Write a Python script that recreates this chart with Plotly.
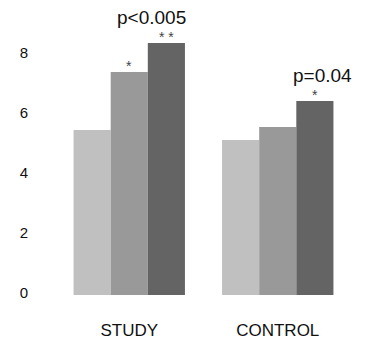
import plotly.graph_objects as go

categories = ["STUDY", "CONTROL"]
series_names = ["A", "B", "C"]
values_a = [5.5, 5.17]
values_b = [7.43, 5.6]
values_c = [8.4, 6.47]
colors = ["#bfc0bf", "#999999", "#646464"]
tick_vals = [0, 2, 4, 6, 8]

fig = go.Figure()
for name, vals, col in zip(series_names, [values_a, values_b, values_c], colors):
    fig.add_trace(go.Bar(x=categories, y=vals, name=name, marker=dict(color=col, line=dict(width=0))))

star_font = dict(family="Liberation Sans, Arial", size=14, color="#444444")
p_font = dict(family="Liberation Sans, Arial", size=19, color="#111111")

# stars above bars
fig.add_annotation(x=0, y=values_b[0], xref="x", yref="y", text="*", showarrow=False,
                   font=star_font, yanchor="bottom", yshift=-4)
fig.add_annotation(x=0.25, y=values_c[0], xref="x", yref="y", text="* *", showarrow=False,
                   font=star_font, yanchor="bottom", yshift=-4)
fig.add_annotation(x=1.25, y=values_c[1], xref="x", yref="y", text="*", showarrow=False,
                   font=star_font, yanchor="bottom", yshift=-4)
# p-values
fig.add_annotation(x=0.148, y=values_c[0], xref="x", yref="y", text="p<0.005", showarrow=False,
                   font=p_font, yanchor="bottom", yshift=13)
fig.add_annotation(x=1.30, y=values_c[1], xref="x", yref="y", text="p=0.04", showarrow=False,
                   font=p_font, yanchor="bottom", yshift=13)

fig.update_layout(
    width=365, height=333,
    margin=dict(l=47, r=21, t=2, b=46),
    barmode="group", bargap=0.25, bargroupgap=0,
    showlegend=False,
    plot_bgcolor="white", paper_bgcolor="white",
    font=dict(family="Liberation Sans, Arial", color="#111111"),
)
fig.update_xaxes(range=[-0.5, 1.5], showgrid=False, showline=False, ticks="",
                 tickfont=dict(size=17), ticklabelstandoff=23, automargin=False)
fig.update_yaxes(range=[0, 9.5], tickvals=tick_vals, showgrid=False, zeroline=False,
                 showline=False, ticks="", tickfont=dict(size=15),
                 ticklabelstandoff=26, ticklabelshift=-2, automargin=False)

fig.write_html("out.html")
